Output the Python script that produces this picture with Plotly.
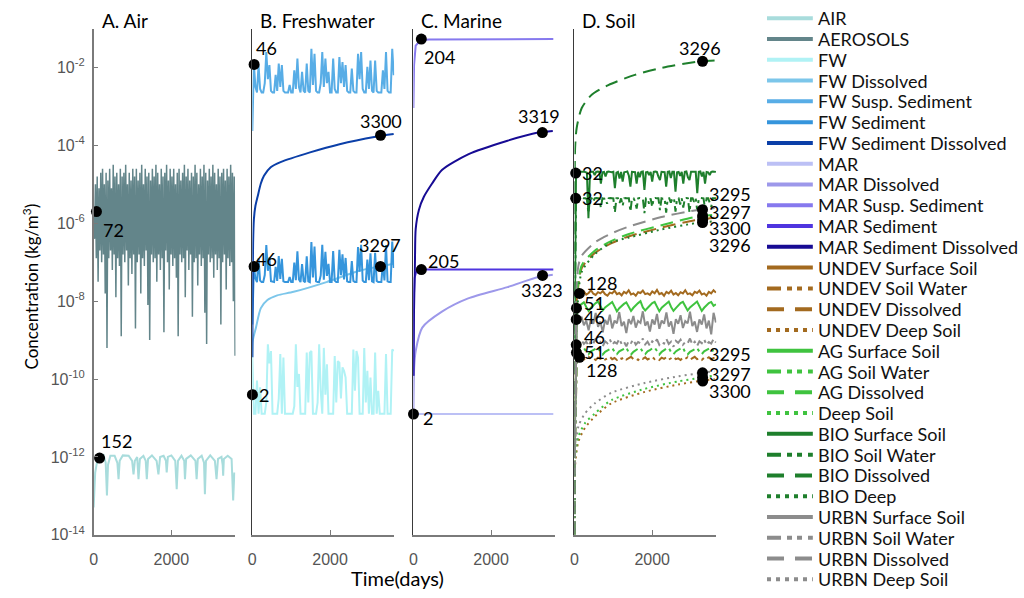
import numpy as np
import plotly.graph_objects as go

T_END = 3640  # last simulated day shown

# ---------------- Panel A: Air (values are log10 of kg/m3) ----------------
AIR_POINTS = [(0, -13.3), (40, -12.4), (100, -12.05), (152, -12.0), (250, -11.95), (310, -12.15),
              (342, -12.99), (370, -12.2), (430, -11.97), (540, -11.97), (610, -12.15), (641, -12.57),
              (670, -12.1), (750, -11.96), (900, -11.97), (990, -12.1), (1026, -12.45), (1060, -12.1),
              (1120, -12.0), (1154, -12.57), (1190, -12.05), (1280, -11.97), (1340, -12.1), (1368, -12.57),
              (1400, -12.05), (1500, -11.96), (1620, -12.1), (1667, -12.45), (1710, -12.0), (1800, -11.97),
              (1860, -12.1), (1880, -12.4), (1910, -12.0), (2000, -11.96), (2100, -12.1), (2137, -12.83),
              (2170, -12.1), (2260, -11.97), (2330, -12.1), (2350, -12.57), (2380, -12.05), (2500, -11.96),
              (2620, -12.1), (2650, -12.57), (2680, -12.05), (2780, -11.97), (2840, -12.15), (2863, -12.96),
              (2890, -12.1), (3000, -11.96), (3120, -12.1), (3162, -12.57), (3200, -12.05), (3290, -12.0),
              (3320, -12.2), (3333, -12.48), (3350, -12.05), (3450, -11.97), (3550, -12.05), (3590, -13.12),
              (3620, -12.4)]

AEROSOLS_LOG = [
    -5.8, -6.4, -5.0, -6.9, -4.8, -7.5, -5.1, -6.7, -4.7, -7.0, -4.6, -6.8, -5.0, -7.8, -4.7, -9.2,
    -4.9, -6.9, -4.6, -6.7, -5.1, -7.2, -4.5, -6.8, -4.8, -7.9, -4.7, -6.9, -5.0, -7.1, -4.6, -8.9,
    -4.8, -6.8, -4.7, -7.0, -4.5, -6.7, -5.0, -7.6, -4.7, -6.9, -4.9, -7.3, -4.6, -6.8, -4.8, -8.7,
    -4.6, -7.0, -4.9, -6.8, -4.7, -7.8, -4.5, -6.9, -5.0, -7.1, -4.6, -6.7, -4.8, -8.1, -4.7, -9.0,
    -4.9, -6.8, -4.6, -7.0, -4.8, -6.9, -4.5, -7.5, -4.7, -6.8, -5.0, -7.2, -4.6, -6.9, -4.8, -8.8,
    -4.7, -6.7, -4.5, -7.0, -4.9, -7.7, -4.6, -6.8, -4.8, -7.1, -4.6, -6.9, -5.0, -7.4, -4.7, -8.9,
    -4.6, -6.8, -4.9, -7.0, -4.7, -6.9, -4.5, -7.9, -4.8, -6.7, -4.6, -7.2, -4.9, -6.8, -4.7, -8.4,
    -4.8, -7.0, -4.5, -6.9, -4.7, -7.6, -5.0, -6.8, -4.6, -7.1, -4.8, -6.9, -4.5, -8.3, -4.7, -9.1,
    -4.9, -6.8, -4.6, -7.0, -4.8, -6.9, -4.5, -7.4, -4.7, -6.8, -5.0, -7.2, -4.6, -6.9, -4.8, -8.6,
    -4.7, -7.0, -4.6, -6.8, -4.9, -7.7, -4.6, -6.9, -4.8, -7.1, -4.5, -7.0, -4.7, -8.0, -4.8, -9.4]

# ---------------- Panel B: Freshwater ----------------
FW_LOG = [-9.44, -10.89, -10.89, -10.04, -10.89, -10.21, -10.89, -10.89, -10.89, -10.6,
          -9.11, -9.6, -9.28, -10.89, -10.89, -10.89, -10.89, -10.5, -9.36, -10.89,
          -9.45, -10.89, -10.89, -10.89, -10.89, -10.89, -10.89, -10.7, -9.11, -10.2,
          -9.87, -10.89, -10.89, -10.89, -10.89, -9.32, -10.6, -9.32, -9.28, -10.89,
          -10.89, -10.89, -10.6, -9.11, -10.3, -10.89, -9.20, -10.4, -9.62, -10.89,
          -10.89, -10.89, -10.89, -9.41, -10.6, -9.54, -9.58, -10.5, -9.70, -9.79,
          -9.96, -10.89, -10.89, -10.89, -10.89, -9.24, -10.3, -9.28, -9.45, -10.89,
          -10.89, -10.89, -9.20, -10.6, -9.79, -10.89, -9.96, -10.89, -10.89, -9.32,
          -10.89, -10.30, -10.89, -10.89, -10.89, -10.89, -9.36, -10.89, -10.89, -10.89,
          -9.24, -9.28]
FW_DISSOLVED_T = [0, 15, 93, 219, 388, 641, 1063, 1907, 2751, 3257, 3637]
FW_DISSOLVED_LOG = [-9.44, -9.0, -8.68, -8.18, -7.97, -7.85, -7.76, -7.51, -7.22, -7.11, -7.04]
FW_SUSP_LOG = [-3.63, -1.92, -2.50, -2.64, -1.94, -2.55, -2.64, -2.64, -2.40, -1.60,
               -2.30, -1.94, -2.60, -2.64, -2.64, -2.19, -2.60, -1.90, -2.50, -1.94,
               -2.60, -2.64, -2.64, -2.64, -2.45, -2.64, -2.64, -2.07, -2.55, -1.77,
               -2.50, -2.64, -2.11, -2.60, -2.64, -1.90, -2.60, -2.64, -1.52, -2.45,
               -1.65, -2.60, -2.64, -2.64, -2.40, -1.60, -2.50, -1.77, -2.40, -2.11,
               -2.64, -2.64, -1.77, -2.55, -2.64, -2.64, -1.73, -2.40, -1.86, -2.50,
               -1.94, -2.60, -2.64, -2.64, -2.03, -2.60, -2.64, -2.64, -1.65, -2.30,
               -1.60, -2.55, -2.64, -2.64, -1.98, -2.55, -1.82, -2.60, -2.64, -1.82,
               -2.60, -2.64, -2.64, -2.64, -2.07, -2.55, -1.60, -2.60, -2.64, -2.64,
               -1.52, -2.20]
FW_SED_LOG = [-8.60, -7.11, -7.42, -7.51, -6.90, -7.47, -7.51, -7.51, -7.33, -6.56,
              -7.22, -6.88, -7.49, -7.51, -7.51, -7.12, -7.48, -6.84, -7.43, -6.91,
              -7.49, -7.51, -7.51, -7.51, -7.38, -7.51, -7.51, -7.01, -7.46, -6.72,
              -7.44, -7.51, -7.05, -7.48, -7.51, -6.85, -7.49, -7.51, -6.48, -7.39,
              -6.60, -7.49, -7.51, -7.51, -7.34, -6.55, -7.45, -6.73, -7.35, -7.04,
              -7.51, -7.51, -6.71, -7.47, -7.51, -7.51, -6.68, -7.33, -6.80, -7.44,
              -6.89, -7.49, -7.51, -7.51, -6.97, -7.48, -7.51, -7.51, -6.61, -7.24,
              -6.55, -7.47, -7.51, -7.51, -6.93, -7.46, -6.77, -7.49, -7.51, -6.76,
              -7.48, -7.51, -7.51, -7.51, -7.02, -7.47, -6.56, -7.49, -7.51, -7.51,
              -6.47, -7.15]
FW_SED_DISS_T = [0, 8, 20, 40, 80, 135, 219, 300, 473, 726, 1485, 2245, 3173, 3637]
FW_SED_DISS_LOG = [-9.44, -7.8, -6.5, -5.9, -5.55, -5.32, -4.98, -4.78, -4.56, -4.43, -4.18, -3.97, -3.78, -3.71]

# ---------------- Panel C: Marine ----------------
MAR_T = [0, 3600]
MAR_LOG = [-10.90, -10.90]
MAR_DISS_T = [0, 20, 59, 228, 734, 1409, 2422, 3207, 3587]
MAR_DISS_LOG = [-10.9, -9.7, -9.28, -8.68, -8.27, -7.93, -7.64, -7.38, -7.32]
MAR_SUSP_T = [0, 5, 17, 59, 186, 400, 3600]
MAR_SUSP_LOG = [-3.04, -2.5, -1.94, -1.44, -1.30, -1.28, -1.27]
MAR_SED_T = [0, 8, 30, 80, 205, 3600]
MAR_SED_LOG = [-9.9, -8.0, -7.4, -7.22, -7.19, -7.19]
MAR_SED_DISS_T = [0, 15, 40, 59, 143, 270, 481, 734, 1409, 2422, 3207, 3587]
MAR_SED_DISS_LOG = [-9.92, -8.3, -7.0, -6.15, -5.65, -5.32, -4.98, -4.63, -4.23, -3.88, -3.67, -3.63]

# ---------------- Panel D: Soil ----------------
UNDEV_SURF_LOG = [-12.0, -7.82, -7.78, -7.80, -7.75, -7.83, -7.79, -7.72, -7.81, -7.84, -7.77, -7.80, -7.74,
                  -7.82, -7.86, -7.78, -7.80, -7.73, -7.82, -7.79, -7.85, -7.76, -7.80, -7.72, -7.83, -7.80,
                  -7.86, -7.77, -7.79, -7.73, -7.82, -7.80, -7.84, -7.75, -7.80, -7.71, -7.82, -7.79, -7.86,
                  -7.76, -7.80, -7.73, -7.83, -7.79, -7.85, -7.77, -7.80, -7.72, -7.82, -7.80, -7.85, -7.76,
                  -7.79, -7.73, -7.83, -7.80, -7.86, -7.76, -7.80, -7.72, -7.78]
UNDEV_WATER_LOG = [-12.5, -9.44, -9.48, -9.45, -9.50, -9.46, -9.43, -9.49, -9.47, -9.51, -9.45, -9.48, -9.44,
                   -9.50, -9.47, -9.43, -9.49, -9.46, -9.51, -9.45, -9.48, -9.44, -9.50, -9.46, -9.43, -9.49,
                   -9.47, -9.51, -9.45, -9.48, -9.44, -9.50, -9.46, -9.43, -9.49, -9.47, -9.51, -9.45, -9.48,
                   -9.44, -9.50, -9.46, -9.43, -9.49, -9.47, -9.51, -9.45, -9.48, -9.44, -9.50, -9.46, -9.43,
                   -9.49, -9.47, -9.51, -9.45, -9.48, -9.44, -9.50, -9.46, -9.45]
AG_SURF_LOG = [-12.0, -8.18, -8.12, -8.08, -8.03, -8.15, -8.25, -8.17, -8.10, -8.05, -8.01, -8.12, -8.24,
               -8.16, -8.11, -8.06, -8.02, -8.14, -8.26, -8.18, -8.12, -8.07, -8.03, -8.13, -8.25, -8.17,
               -8.10, -8.05, -8.00, -8.16, -8.24, -8.16, -8.11, -8.05, -8.02, -8.14, -8.26, -8.17, -8.12,
               -8.06, -8.01, -8.15, -8.25, -8.18, -8.11, -8.05, -8.02, -8.13, -8.24, -8.16, -8.10, -8.06,
               -8.01, -8.14, -8.25, -8.17, -8.11, -8.05, -8.02, -8.12, -8.08]
AG_WATER_LOG = [-12.5, -9.32, -9.27, -9.23, -9.20, -9.30, -9.36, -9.29, -9.25, -9.21, -9.19, -9.31, -9.37,
                -9.30, -9.26, -9.22, -9.20, -9.30, -9.36, -9.29, -9.25, -9.21, -9.19, -9.32, -9.37, -9.30,
                -9.25, -9.22, -9.20, -9.31, -9.36, -9.29, -9.26, -9.21, -9.19, -9.30, -9.37, -9.30, -9.25,
                -9.22, -9.20, -9.31, -9.36, -9.29, -9.25, -9.21, -9.19, -9.32, -9.37, -9.30, -9.26, -9.22,
                -9.20, -9.30, -9.36, -9.29, -9.25, -9.21, -9.19, -9.31, -9.28]
URBN_SURF_LOG = [-12.0, -8.47, -8.55, -8.40, -8.62, -8.50, -8.75, -8.45, -8.58, -8.30, -8.66, -8.52, -8.80,
                 -8.48, -8.60, -8.35, -8.70, -8.50, -8.57, -8.28, -8.64, -8.53, -8.82, -8.46, -8.59, -8.38,
                 -8.68, -8.51, -8.56, -8.26, -8.63, -8.52, -8.78, -8.47, -8.60, -8.33, -8.71, -8.50, -8.58,
                 -8.29, -8.65, -8.52, -8.84, -8.46, -8.58, -8.36, -8.69, -8.51, -8.57, -8.27, -8.64, -8.52,
                 -8.79, -8.47, -8.60, -8.34, -8.70, -8.50, -8.85, -8.30, -8.55]
URBN_WATER_LOG = [-12.5, -9.12, -9.05, -9.00, -9.10, -9.04, -9.15, -9.02, -9.08, -8.96, -9.11, -9.05, -9.16,
                  -9.03, -9.08, -8.98, -9.12, -9.05, -9.09, -8.97, -9.10, -9.04, -9.16, -9.02, -9.07, -8.99,
                  -9.12, -9.05, -9.08, -8.96, -9.11, -9.04, -9.15, -9.03, -9.08, -8.98, -9.12, -9.05, -9.09,
                  -8.97, -9.10, -9.04, -9.17, -9.02, -9.07, -8.99, -9.12, -9.05, -9.08, -8.96, -9.11, -9.04,
                  -9.15, -9.03, -9.08, -8.98, -9.12, -9.05, -9.09, -8.97, -9.06]
BIO_SURF_LOG = [-9.5, -4.71, -4.68, -4.68, -4.69, -4.68, -4.67, -4.68, -4.70, -5.87,
                -4.69, -4.68, -4.68, -4.76, -4.68, -4.67, -4.68, -4.98, -4.69, -4.68,
                -4.80, -4.68, -4.67, -4.68, -4.69, -4.68, -5.10, -4.70, -4.68, -4.85,
                -4.68, -4.93, -4.69, -4.68, -4.67, -4.78, -5.06, -4.68, -4.68, -4.69,
                -4.98, -4.68, -4.82, -4.68, -4.67, -5.14, -4.69, -4.68, -4.76, -4.68,
                -4.93, -4.68, -4.67, -4.68, -4.80, -4.89, -4.68, -4.68, -4.69, -5.06,
                -4.68, -4.67, -4.84, -4.68, -4.68, -5.19, -4.69, -4.68, -4.78, -4.68,
                -4.98, -4.68, -4.67, -4.82, -4.89, -4.68, -4.68, -4.69, -4.68, -5.23,
                -4.68, -4.67, -4.80, -4.68, -4.98, -4.68, -4.69, -4.76, -4.68, -4.67,
                -4.68, -4.68]
BIO_WATER_LOG = [-9.8, -5.36, -5.36, -5.37, -5.36, -5.35, -5.36, -5.36, -5.38, -5.74,
                 -5.36, -5.36, -5.45, -5.36, -5.35, -5.36, -5.36, -5.60, -5.36, -5.37,
                 -5.36, -5.50, -5.36, -5.35, -5.36, -5.36, -5.72, -5.36, -5.36, -5.48,
                 -5.36, -5.55, -5.36, -5.35, -5.36, -5.36, -5.70, -5.36, -5.36, -5.44,
                 -5.62, -5.36, -5.35, -5.36, -5.36, -5.74, -5.36, -5.36, -5.50, -5.36,
                 -5.58, -5.36, -5.35, -5.36, -5.36, -5.66, -5.36, -5.37, -5.36, -5.73,
                 -5.36, -5.36, -5.47, -5.36, -5.35, -5.70, -5.36, -5.36, -5.52, -5.36,
                 -5.60, -5.36, -5.35, -5.36, -5.72, -5.36, -5.36, -5.45, -5.36, -5.68,
                 -5.36, -5.35, -5.36, -5.36, -5.62, -5.36, -5.36, -5.48, -5.58, -5.36,
                 -5.36, -5.36]
DISS_T = [0, 15, 50, 187, 528, 956, 1385, 2238, 3093, 3606]
UNDEV_DISS_LOG = [-14.5, -10.0, -8.2, -7.15, -6.76, -6.51, -6.34, -6.11, -5.92, -5.86]
AG_DISS_LOG = [-14.5, -9.8, -8.0, -7.08, -6.70, -6.45, -6.28, -6.05, -5.84, -5.78]
URBN_DISS_T = [0, 15, 50, 103, 187, 528, 956, 1385, 2238, 3093, 3606]
URBN_DISS_LOG = [-14.5, -9.5, -7.7, -7.08, -6.83, -6.49, -6.26, -6.09, -5.84, -5.67, -5.61]
BIO_DISS_T = [0, 5, 17, 59, 187, 444, 872, 1555, 2238, 3247, 3606]
BIO_DISS_LOG = [-14.5, -6.5, -4.05, -3.54, -3.04, -2.70, -2.45, -2.19, -2.01, -1.84, -1.82]
DEEP_T = [0, 17, 103, 272, 528, 956, 1810, 2667, 3221, 3606]
URBN_DEEP_LOG = [-14.5, -11.89, -11.21, -10.88, -10.62, -10.35, -10.10, -9.93, -9.85, -9.80]
AG_DEEP_LOG = [-14.5, -12.0, -11.47, -11.13, -10.88, -10.54, -10.25, -10.06, -9.97, -9.91]
UNDEV_DEEP_LOG = [-14.5, -12.2, -11.6, -11.25, -10.96, -10.62, -10.33, -10.14, -10.05, -10.00]
BIO_DEEP_T = [0, 20, 60, 187, 528, 956, 1385, 2238, 3093, 3606]
BIO_DEEP_LOG = [-14.5, -11.0, -8.5, -7.25, -6.79, -6.49, -6.37, -6.16, -6.00, -5.95]

# ---------------- highlighted points (day, log10 conc) ----------------
DOTS_A_T = [72, 152]
DOTS_A_LOG = [-5.70, -12.03]
DOTS_B_T = [46, 3300, 46, 3297, 2]
DOTS_B_LOG = [-1.92, -3.74, -7.11, -7.11, -10.40]
DOTS_C_T = [204, 3319, 205, 3323, 2]
DOTS_C_LOG = [-1.27, -3.67, -7.19, -7.34, -10.90]
DOTS_D_T = [3296, 32, 32, 3295, 3297, 3300, 3296, 128, 51, 46, 46, 51, 128, 3295, 3297, 3300]
DOTS_D_LOG = [-1.84, -4.71, -5.36, -5.65, -5.81, -5.90, -5.98, -7.80, -8.18, -8.47,
              -9.12, -9.32, -9.44, -9.84, -9.96, -10.05]

# label offsets in pixels (dx right, dy down) -- layout only
OFF_A = [(17, 18), (17, -17)]
OFF_B = [(12, -16), (0, -14), (12, -8), (0, -22), (12, 0)]
OFF_C = [(18, 18), (-3, -17), (22, -9), (-1, 15), (15, 4)]
OFF_D = [(-3, -13), (17, 0), (17, 0), (27, -16), (27, -4), (27, 9), (27, 22),
         (22, -10), (18, -5), (18, -2), (18, -8), (18, -1), (22, 13), (27, -19), (27, -3), (27, 10)]

YTICK_EXP = [-14, -12, -10, -8, -6, -4, -2]
XTICKS = [0, 2000]

# ---------------- styles ----------------
C = dict(AIR='#a8dcdc', AER='#63858a', FW='#b0f2f5', FWD='#7cc6ea', FWS='#58ade6', FWSED='#3595dc',
         FWSD='#0b3fa8', MAR='#bcc0f5', MARD='#9d98ea', MARS='#8679ee', MARSED='#4f35df', MARSD='#170b94',
         UNDEV='#a36a1f', AG='#3fc33f', BIO='#1e7f2c', URBN='#8c8c8c')
DASH_DATA = {'solid': 'solid', 'water': '9px,4px,3px,4px', 'diss': '13px,7px', 'deep': '2px,4px'}
DASH_LEG = {'solid': 'solid', 'water': '14px,6px,5px,5px,5px,6px', 'diss': '17px,11px', 'deep': '4px,5px'}


def grid(vals):
    return np.linspace(0, T_END, len(vals))


def conc(vals):
    return np.power(10.0, np.asarray(vals, dtype=float))


# name, panel, days, log-values, colour, dash, width, smooth
SERIES = [
    ("AIR", 1, [p[0] for p in AIR_POINTS], [p[1] for p in AIR_POINTS], C['AIR'], 'solid', 2, False),
    ("AEROSOLS", 1, grid(AEROSOLS_LOG), AEROSOLS_LOG, C['AER'], 'solid', 1.5, False),
    ("FW", 2, grid(FW_LOG), FW_LOG, C['FW'], 'solid', 2, False),
    ("FW Dissolved", 2, FW_DISSOLVED_T, FW_DISSOLVED_LOG, C['FWD'], 'solid', 2, True),
    ("FW Susp. Sediment", 2, grid(FW_SUSP_LOG), FW_SUSP_LOG, C['FWS'], 'solid', 2, False),
    ("FW Sediment", 2, grid(FW_SED_LOG), FW_SED_LOG, C['FWSED'], 'solid', 2, False),
    ("FW Sediment Dissolved", 2, FW_SED_DISS_T, FW_SED_DISS_LOG, C['FWSD'], 'solid', 2, True),
    ("MAR", 3, MAR_T, MAR_LOG, C['MAR'], 'solid', 2, False),
    ("MAR Dissolved", 3, MAR_DISS_T, MAR_DISS_LOG, C['MARD'], 'solid', 2, True),
    ("MAR Susp. Sediment", 3, MAR_SUSP_T, MAR_SUSP_LOG, C['MARS'], 'solid', 2, False),
    ("MAR Sediment", 3, MAR_SED_T, MAR_SED_LOG, C['MARSED'], 'solid', 2, False),
    ("MAR Sediment Dissolved", 3, MAR_SED_DISS_T, MAR_SED_DISS_LOG, C['MARSD'], 'solid', 2, True),
    ("UNDEV Surface Soil", 4, grid(UNDEV_SURF_LOG), UNDEV_SURF_LOG, C['UNDEV'], 'solid', 2, False),
    ("UNDEV Soil Water", 4, grid(UNDEV_WATER_LOG), UNDEV_WATER_LOG, C['UNDEV'], 'water', 2, False),
    ("UNDEV Dissolved", 4, DISS_T, UNDEV_DISS_LOG, C['UNDEV'], 'diss', 2, True),
    ("UNDEV Deep Soil", 4, DEEP_T, UNDEV_DEEP_LOG, C['UNDEV'], 'deep', 2, True),
    ("AG Surface Soil", 4, grid(AG_SURF_LOG), AG_SURF_LOG, C['AG'], 'solid', 2, False),
    ("AG Soil Water", 4, grid(AG_WATER_LOG), AG_WATER_LOG, C['AG'], 'water', 2, False),
    ("AG Dissolved", 4, DISS_T, AG_DISS_LOG, C['AG'], 'diss', 2, True),
    ("Deep Soil", 4, DEEP_T, AG_DEEP_LOG, C['AG'], 'deep', 2, True),
    ("BIO Surface Soil", 4, grid(BIO_SURF_LOG), BIO_SURF_LOG, C['BIO'], 'solid', 2, False),
    ("BIO Soil Water", 4, grid(BIO_WATER_LOG), BIO_WATER_LOG, C['BIO'], 'water', 2, False),
    ("BIO Dissolved", 4, BIO_DISS_T, BIO_DISS_LOG, C['BIO'], 'diss', 2, True),
    ("BIO Deep", 4, BIO_DEEP_T, BIO_DEEP_LOG, C['BIO'], 'deep', 2, True),
    ("URBN Surface Soil", 4, grid(URBN_SURF_LOG), URBN_SURF_LOG, C['URBN'], 'solid', 2, False),
    ("URBN Soil Water", 4, grid(URBN_WATER_LOG), URBN_WATER_LOG, C['URBN'], 'water', 2, False),
    ("URBN Dissolved", 4, URBN_DISS_T, URBN_DISS_LOG, C['URBN'], 'diss', 2, True),
    ("URBN Deep Soil", 4, DEEP_T, URBN_DEEP_LOG, C['URBN'], 'deep', 2, True),
]

W, H = 1024, 598
TEXT_FONT = "Lato, 'Open Sans', sans-serif"
TICK_FONT = "'Liberation Sans', Arial, sans-serif"

X_DOMAINS = [(90.0, 232.4), (249.3, 391.7), (411.0, 553.4), (572.7, 715.1)]
Y_DOMAIN = [1 - 543.0 / H, 1 - 29.0 / H]


def ax_id(i, kind):
    return kind if i == 1 else f"{kind}{i}"


fig = go.Figure()

for name, panel, t, lg, col, dash, lw, smooth in SERIES:
    line = dict(color=col, width=lw, dash=DASH_DATA[dash])
    if smooth:
        line.update(shape='spline', smoothing=0.7)
    fig.add_trace(go.Scatter(
        x=t, y=conc(lg), mode='lines', name=name, showlegend=False, line=line,
        xaxis=ax_id(panel, 'x'), yaxis=ax_id(panel, 'y'), hoverinfo='skip'))

annotations = []
for panel, (dt, dl, off) in enumerate([(DOTS_A_T, DOTS_A_LOG, OFF_A), (DOTS_B_T, DOTS_B_LOG, OFF_B),
                                       (DOTS_C_T, DOTS_C_LOG, OFF_C), (DOTS_D_T, DOTS_D_LOG, OFF_D)], start=1):
    fig.add_trace(go.Scatter(
        x=dt, y=conc(dl), mode='markers', showlegend=False, cliponaxis=False,
        marker=dict(color='black', size=11), xaxis=ax_id(panel, 'x'), yaxis=ax_id(panel, 'y'),
        hoverinfo='skip'))
    for t, v, (dx, dy) in zip(dt, dl, off):
        annotations.append(dict(x=t, y=v, xref=ax_id(panel, 'x'), yref=ax_id(panel, 'y'),
                                text=str(t), showarrow=False, xshift=dx, yshift=-dy,
                                font=dict(family=TEXT_FONT, size=18, color='black')))

layout = dict(width=W, height=H, margin=dict(l=0, r=0, t=0, b=0),
              paper_bgcolor='white', plot_bgcolor='white', showlegend=False)

for i, (x0, x1) in enumerate(X_DOMAINS, start=1):
    xa = dict(domain=[x0 / W, x1 / W], range=[0, 3650], anchor=ax_id(i, 'y'),
              showgrid=False, zeroline=False, showline=True, linecolor='#7a7a7a', linewidth=1.6,
              ticks='inside', ticklen=5, tickwidth=1.2, tickcolor='#7a7a7a', ticklabelstandoff=9,
              tickvals=XTICKS, ticktext=[str(v) for v in XTICKS],
              tickfont=dict(family=TICK_FONT, size=16, color='#555555'))
    ya = dict(domain=Y_DOMAIN, type='log', range=[-14, -1], anchor=ax_id(i, 'x'),
              showgrid=False, zeroline=False, showline=True)
    if i == 1:
        ya.update(linecolor='#7a7a7a', linewidth=1.6, ticks='inside', ticklen=5, tickwidth=1.2,
                  tickcolor='#7a7a7a', ticklabelstandoff=4, tickvals=[10.0 ** e for e in YTICK_EXP],
                  ticktext=[f"10<sup>{e}</sup>" for e in YTICK_EXP],
                  tickfont=dict(family=TICK_FONT, size=16, color='#555555'))
    else:
        ya.update(linecolor='#3a3a3a', linewidth=1.0, ticks='', showticklabels=False)
    layout[ax_id(i, 'xaxis')] = xa
    layout[ax_id(i, 'yaxis')] = ya

# panel titles
for (x0, _), title in zip(X_DOMAINS, ["A. Air", "B. Freshwater", "C. Marine", "D. Soil"]):
    annotations.append(dict(x=(x0 + 6) / W, y=1 - 21.0 / H, xref='paper', yref='paper', text=title,
                            showarrow=False, xanchor='left', yanchor='middle',
                            font=dict(family=TEXT_FONT, size=19, color='black')))

annotations.append(dict(x=395 / W, y=1 - 587.0 / H, xref='paper', yref='paper', text="Time(days)",
                        showarrow=False, xanchor='center', yanchor='middle',
                        font=dict(family=TEXT_FONT, size=20, color='black')))
annotations.append(dict(x=27 / W, y=1 - 291.0 / H, xref='paper', yref='paper',
                        text="Concentration (kg/m<sup>3</sup>)", textangle=-90,
                        showarrow=False, xanchor='center', yanchor='middle',
                        font=dict(family=TEXT_FONT, size=17, color='black')))

# manual legend
shapes = []
LEG_TOP, LEG_STEP = 18.5, 21.1
for k, (name, panel, t, lg, col, dash, lw, smooth) in enumerate(SERIES):
    yp = 1 - (LEG_TOP + k * LEG_STEP) / H
    shapes.append(dict(type='line', xref='paper', yref='paper', x0=766 / W, x1=812 / W, y0=yp, y1=yp,
                       line=dict(color=col, width=4, dash=DASH_LEG[dash])))
    annotations.append(dict(x=815 / W, y=yp, xref='paper', yref='paper', text=name, showarrow=False,
                            xanchor='left', yanchor='middle',
                            font=dict(family=TEXT_FONT, size=18, color='#111111')))

layout['annotations'] = annotations
layout['shapes'] = shapes
fig.update_layout(**layout)
fig.write_html("out.html", config={'displayModeBar': False},
               post_script="document.body.style.margin='0';document.body.style.padding='0';"
                           "document.body.style.overflow='hidden';")
